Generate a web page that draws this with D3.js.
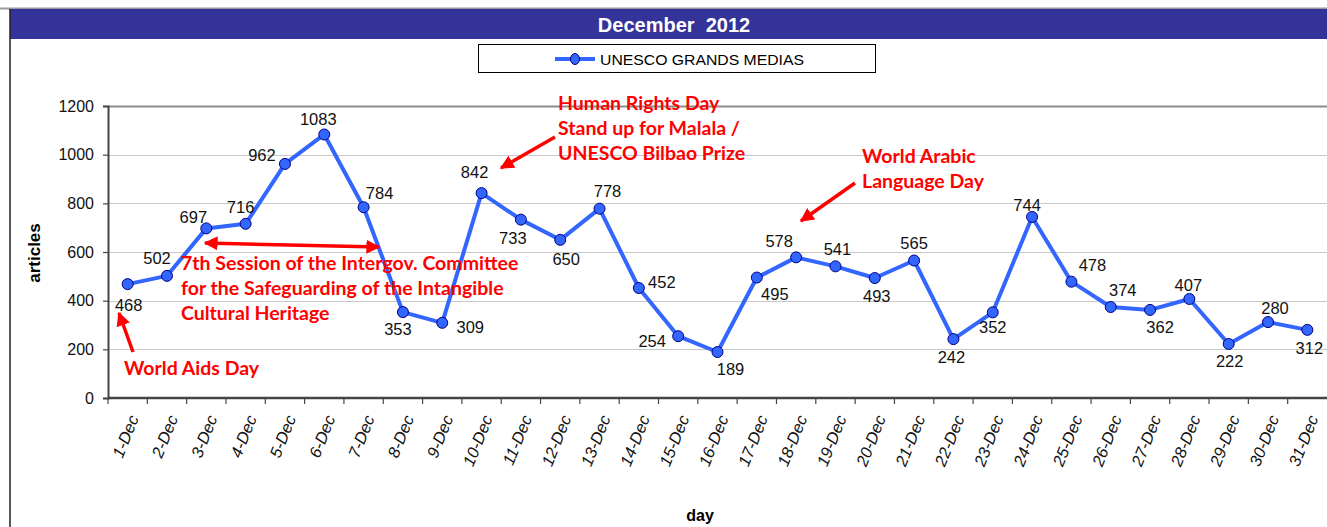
<!DOCTYPE html>
<html>
<head>
<meta charset="utf-8">
<script src="https://cdn.jsdelivr.net/npm/d3@7"></script>
<style>
  body { margin: 0; background: #fff; }
  svg { display: block; }
</style>
</head>
<body>
<div id="chart"></div>
<script>
// data
var days = ["1-Dec","2-Dec","3-Dec","4-Dec","5-Dec","6-Dec","7-Dec","8-Dec","9-Dec","10-Dec",
            "11-Dec","12-Dec","13-Dec","14-Dec","15-Dec","16-Dec","17-Dec","18-Dec","19-Dec","20-Dec",
            "21-Dec","22-Dec","23-Dec","24-Dec","25-Dec","26-Dec","27-Dec","28-Dec","29-Dec","30-Dec","31-Dec"];
var articles = [468, 502, 697, 716, 962, 1083, 784, 353, 309, 842,
                733, 650, 778, 452, 254, 189, 495, 578, 541, 493,
                565, 242, 352, 744, 478, 374, 362, 407, 222, 312, 280];
// data labels as printed on the original (last two are swapped there)
var pointLabels = ["468","502","697","716","962","1083","784","353","309","842",
                   "733","650","778","452","254","189","495","578","541","493",
                   "565","242","352","744","478","374","362","407","222","280","312"];
var yTicks = [0, 200, 400, 600, 800, 1000, 1200];
var seriesName = "UNESCO GRANDS MEDIAS";
var chartTitle = "December  2012";

// where each data label sits relative to its point (dx, dy of label centre)
var labelOffsets = [[1,21],[-10,-18],[-13,-11],[-5,-17],[-23,-9],[-6,-15],[16,-14],[-5,17],[28,4],[-7,-21],
                    [-8,19],[6,19],[8,-17],[23,-6],[-26,5],[13,17],[18,17],[-17,-16],[2,-17],[2,18],
                    [0,-17],[-2,18],[0,15],[-5,-12],[21,-16],[12,-17],[10,17],[-1,-14],[1,17],[7,-14],[2,18]];

var W = 1327, H = 527;
var plot = {left: 108, top: 106, right: 1327, bottom: 398};
var FONT = "Liberation Sans, Arial, sans-serif";

var svg = d3.select("#chart").append("svg").attr("width", W).attr("height", H);

// frame + title bar
svg.append("line").attr("x1", 0).attr("x2", W).attr("y1", 8.5).attr("y2", 8.5)
    .attr("stroke", "#999").attr("stroke-width", 2);
svg.append("rect").attr("x", 10).attr("y", 9).attr("width", W - 10).attr("height", 30).attr("fill", "#333399");
svg.append("line").attr("x1", 10).attr("x2", 10).attr("y1", 9).attr("y2", H)
    .attr("stroke", "#222").attr("stroke-width", 1.5);
svg.append("text").attr("x", 674).attr("y", 31.5).attr("text-anchor", "middle")
    .attr("fill", "#fff").attr("font-family", FONT)
    .attr("font-weight", "bold").attr("font-size", 20)
    .style("white-space", "pre").text(chartTitle);

// legend
var lg = svg.append("g");
lg.append("rect").attr("x", 478.5).attr("y", 44.5).attr("width", 397).attr("height", 28)
    .attr("fill", "#fff").attr("stroke", "#000").attr("stroke-width", 1);
lg.append("line").attr("x1", 555).attr("x2", 595).attr("y1", 59).attr("y2", 59)
    .attr("stroke", "#3366FF").attr("stroke-width", 4);
lg.append("ellipse").attr("cx", 575).attr("cy", 59).attr("rx", 4.5).attr("ry", 5.5)
    .attr("fill", "#3366FF").attr("stroke", "#000080").attr("stroke-width", 1);
lg.append("text").attr("x", 600).attr("y", 64.5)
    .attr("font-family", FONT).attr("font-size", 15)
    .attr("textLength", 204).attr("lengthAdjust", "spacingAndGlyphs")
    .text(seriesName);

// scales
var x = d3.scaleBand().domain(days).range([plot.left, plot.right]);
var y = d3.scaleLinear().domain([0, 1200]).range([plot.bottom, plot.top]);

// grid
svg.append("g").selectAll("line").data(yTicks.filter(function(d){ return d > 0; }))
    .enter().append("line")
    .attr("x1", plot.left).attr("x2", plot.right)
    .attr("y1", function(d){ return Math.round(y(d)) + 0.5; })
    .attr("y2", function(d){ return Math.round(y(d)) + 0.5; })
    .attr("stroke", function(d){ return d === 1200 ? "#8c8c8c" : "#c8c8c8"; })
    .attr("stroke-width", function(d){ return d === 1200 ? 2 : 1.2; });

// y axis
var yAxis = svg.append("g").attr("transform", "translate(" + plot.left + ",0)")
    .call(d3.axisLeft(y).tickValues(yTicks).tickFormat(d3.format("d")).tickSize(5).tickPadding(8));
yAxis.select(".domain").attr("stroke", "#444").attr("stroke-width", 2);
yAxis.selectAll(".tick line").attr("stroke", "#444").attr("stroke-width", 1.2);
yAxis.selectAll("text").attr("font-family", FONT)
    .attr("font-size", 16).attr("fill", "#111").attr("dx", -1);

// x axis, ticks on category boundaries
var xAxisG = svg.append("g").attr("transform", "translate(0," + plot.bottom + ")");
xAxisG.append("line").attr("x1", plot.left).attr("x2", plot.right)
    .attr("stroke", "#444").attr("stroke-width", 2.5);
xAxisG.selectAll("line.b").data(days).enter().append("line").attr("class", "b")
    .attr("x1", function(d){ return x(d); }).attr("x2", function(d){ return x(d); })
    .attr("y1", 0).attr("y2", 6).attr("stroke", "#444").attr("stroke-width", 1.2);
xAxisG.selectAll("text").data(days).enter().append("text")
    .attr("transform", function(d){ return "translate(" + (x(d) + x.bandwidth() / 2 + 6) + ",18) rotate(-68)"; })
    .attr("text-anchor", "end").attr("dy", "0.35em")
    .attr("font-family", FONT).attr("font-style", "italic")
    .attr("font-size", 16.5).attr("fill", "#111")
    .text(function(d){ return d; });

// axis titles
svg.append("text").attr("transform", "translate(40,253) rotate(-90)").attr("text-anchor", "middle")
    .attr("font-family", FONT).attr("font-weight", "bold")
    .attr("font-size", 17).text("articles");
svg.append("text").attr("x", 700).attr("y", 521).attr("text-anchor", "middle")
    .attr("font-family", FONT).attr("font-weight", "bold")
    .attr("font-size", 16).text("day");

// series
var cx = function(d, i){ return x(days[i]) + x.bandwidth() / 2; };
var line = d3.line().x(function(d, i){ return cx(d, i); }).y(function(d){ return y(d); });
svg.append("path").datum(articles).attr("d", line)
    .attr("fill", "none").attr("stroke", "#3366FF").attr("stroke-width", 4)
    .attr("stroke-linejoin", "round");
svg.append("g").selectAll("circle").data(articles).enter().append("circle")
    .attr("cx", cx).attr("cy", function(d){ return y(d); }).attr("r", 5.5)
    .attr("fill", "#3366FF").attr("stroke", "#000080").attr("stroke-width", 1);

svg.append("g").selectAll("text").data(articles).enter().append("text")
    .attr("x", function(d, i){ return cx(d, i) + labelOffsets[i][0]; })
    .attr("y", function(d, i){ return y(d) + labelOffsets[i][1]; })
    .attr("dy", "0.35em").attr("text-anchor", "middle")
    .attr("font-family", FONT).attr("font-size", 16.5).attr("fill", "#111")
    .text(function(d, i){ return pointLabels[i]; });

// annotations
var defs = svg.append("defs");
defs.append("marker").attr("id", "ah").attr("viewBox", "0 0 10 10").attr("refX", 9).attr("refY", 5)
    .attr("markerWidth", 4).attr("markerHeight", 4).attr("orient", "auto-start-reverse")
    .append("path").attr("d", "M0,0 L10,5 L0,10 z").attr("fill", "#FF0000");

var arrows = [
    {x1: 133, y1: 352, x2: 119, y2: 313, both: false},
    {x1: 205, y1: 243, x2: 379, y2: 247, both: true},
    {x1: 555, y1: 137, x2: 501, y2: 168, both: false},
    {x1: 855, y1: 183, x2: 801, y2: 221, both: false}
];
svg.append("g").selectAll("line").data(arrows).enter().append("line")
    .attr("x1", function(d){ return d.x1; }).attr("y1", function(d){ return d.y1; })
    .attr("x2", function(d){ return d.x2; }).attr("y2", function(d){ return d.y2; })
    .attr("stroke", "#FF0000").attr("stroke-width", 3.5)
    .attr("marker-end", "url(#ah)")
    .attr("marker-start", function(d){ return d.both ? "url(#ah)" : null; });

var notes = [
    {x: 124, y: 368, lines: ["World Aids Day"]},
    {x: 181, y: 263, lines: ["7th Session of the Intergov. Committee", "for the Safeguarding of the Intangible", "Cultural Heritage"]},
    {x: 558, y: 103, lines: ["Human Rights Day", "Stand up for Malala /", "UNESCO Bilbao Prize"]},
    {x: 862, y: 156, lines: ["World Arabic", "Language Day"]}
];
notes.forEach(function(n){
    var t = svg.append("text").attr("font-family", "Lato, 'Open Sans', sans-serif").attr("font-weight", "bold")
        .attr("font-size", 19.5).attr("fill", "#FF0000");
    n.lines.forEach(function(s, i){
        t.append("tspan").attr("x", n.x).attr("y", n.y + i * 25).attr("dy", "0.35em").text(s);
    });
});
</script>
</body>
</html>
